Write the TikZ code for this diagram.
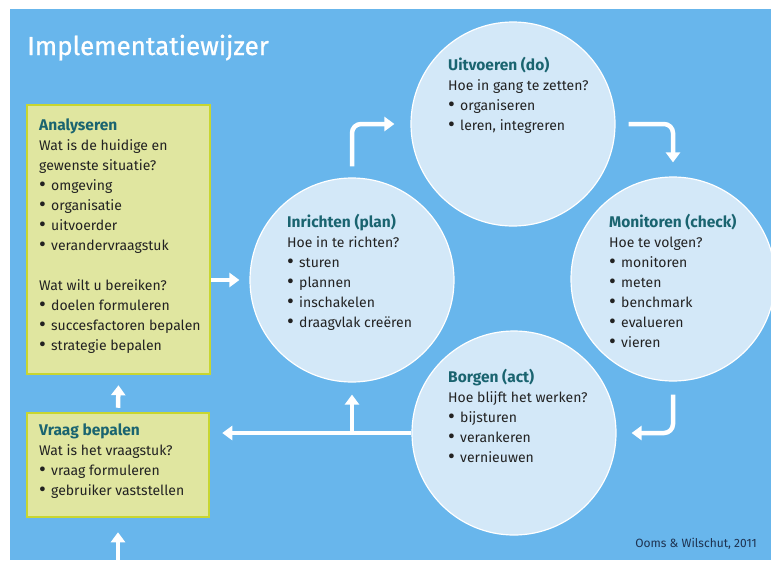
\documentclass[tikz,border=0pt]{standalone}
\usepackage{fontspec}
\setmainfont{Fira Sans}
\newfontfamily\headfont[FakeBold=0.8]{Fira Sans}
\usetikzlibrary{arrows.meta}

\definecolor{bgblue}{RGB}{104,182,236}
\definecolor{stagefill}{RGB}{211,232,248}
\definecolor{cardfill}{RGB}{224,230,160}
\definecolor{cardline}{RGB}{200,214,48}
\definecolor{headteal}{RGB}{26,100,112}
\definecolor{bodytext}{RGB}{34,34,34}
\definecolor{creditblue}{RGB}{30,50,80}

\newcommand\itm{\makebox[12pt][l]{\raisebox{-1pt}{\scalebox{1.5}{\textbullet}}}}
% the strut fixes the first line's height at 16pt
\newcommand\stagehead[1]{{\fontsize{15.5}{20}\bfseries\color{headteal}\selectfont\rule{0pt}{16pt}#1}}

\begin{document}
\begin{tikzpicture}[x=1pt,y=-1pt,
  stage/.style={circle,minimum size=204pt,inner sep=0pt,fill=stagefill,draw=white,line width=1.2pt},
  card/.style={rectangle,inner sep=0pt,fill=cardfill,draw=cardline,line width=2.5pt},
  txt/.style={anchor=north west,align=left,inner sep=0pt,text=bodytext,font=\fontsize{14}{20}\selectfont},
  flow/.style={draw=white,line width=4.5pt,-{Triangle[width=14pt,length=10pt]}},
  elbow/.style={flow,rounded corners=9pt}]

  \useasboundingbox (0,0) rectangle (771,560);
  \fill[bgblue] (10,9) rectangle (771,560);

  \node[anchor=base west,inner sep=0pt,text=white,font=\headfont\fontsize{26}{30}\selectfont] (head) at (27,55) {Implementatiewijzer};

  \node[card,minimum width=183pt,minimum height=269pt] (ana) at (118.5,239.5) {};
  \node[card,minimum width=182pt,minimum height=104pt] (vraag) at (118,465) {};

  \node[txt] (ana-txt) at (39,114) {\stagehead{Analyseren}\\
    Wat is de huidige en\\ gewenste situatie?\\
    \itm omgeving\\ \itm organisatie\\ \itm uitvoerder\\ \itm verandervraagstuk\\[20pt]
    Wat wilt u bereiken?\\
    \itm doelen formuleren\\ \itm succesfactoren bepalen\\ \itm strategie bepalen};
  \node[txt] (vraag-txt) at (39,419) {\stagehead{Vraag bepalen}\\
    Wat is het vraagstuk?\\
    \itm vraag formuleren\\ \itm gebruiker vaststellen};

  \node[stage] (plan) at (352,280) {};
  \node[stage] (do) at (513,124) {};
  \node[stage] (check) at (673,279) {};
  \node[stage] (act) at (514,433) {};

  \node[txt] (plan-txt) at (287,211) {\stagehead{Inrichten (plan)}\\
    Hoe in te richten?\\
    \itm sturen\\ \itm plannen\\ \itm inschakelen\\ \itm draagvlak creëren};
  \node[txt] (do-txt) at (448,54) {\stagehead{Uitvoeren (do)}\\
    Hoe in gang te zetten?\\
    \itm organiseren\\ \itm leren, integreren};
  \node[txt] (check-txt) at (609,211) {\stagehead{Monitoren (check)}\\
    Hoe te volgen?\\
    \itm monitoren\\ \itm meten\\ \itm benchmark\\ \itm evalueren\\ \itm vieren};
  \node[txt] (act-txt) at (448,366) {\stagehead{Borgen (act)}\\
    Hoe blijft het werken?\\
    \itm bijsturen\\ \itm verankeren\\ \itm vernieuwen};

  % connectors
  \coordinate (foot) at (118,562);
  \draw[flow] (foot) -- ([yshift=-14pt]vraag.south);
  \draw[flow] ([yshift=4pt]vraag.north) -- ([yshift=-10pt]ana.south);
  \draw[flow] (ana.east |- plan) -- ([xshift=-10pt]plan.west);
  \draw[elbow] ([yshift=11pt]plan.north) |- ([xshift=-16pt]do.west);
  \draw[elbow] ([xshift=13pt]do.east) -| ([yshift=14pt]check.north);
  \draw[elbow] ([yshift=-13pt]check.south) |- ([xshift=15pt]act.east);
  \draw[flow] (act.west) -- ([xshift=12pt]vraag.east |- act.west);
  \draw[flow] (plan |- act.west) -- ([yshift=-12pt]plan.south);

  \node[anchor=base east,inner sep=0pt,text=creditblue,font=\fontsize{12}{14}\selectfont] (credit) at (757,547) {Ooms \& Wilschut, 2011};

\end{tikzpicture}
\end{document}
